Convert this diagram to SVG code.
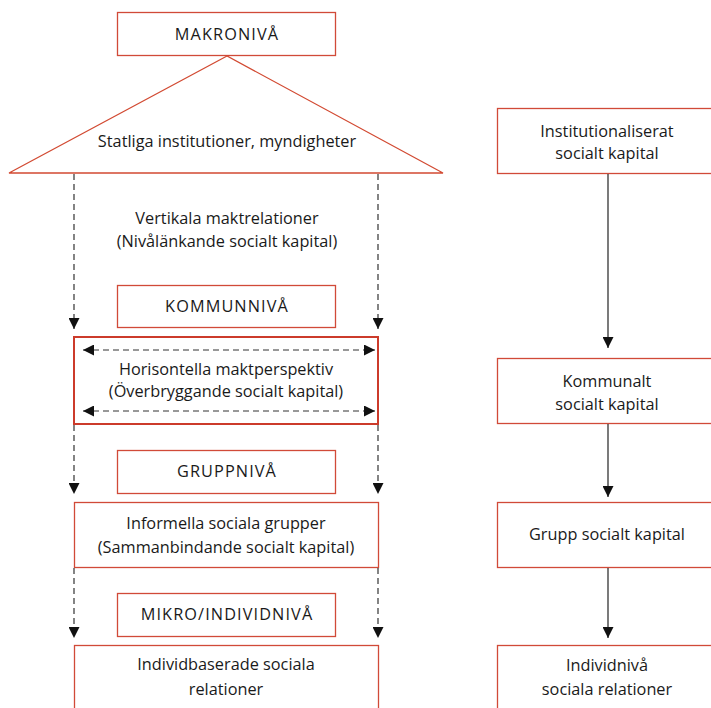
<svg xmlns="http://www.w3.org/2000/svg" width="711" height="708" viewBox="0 0 711 708">
  <style>
    .lbl { font-family: "Open Sans", "Noto Sans", sans-serif; font-size: 16.3px; fill: #1a1a1a; text-anchor: middle; }
    .caps { letter-spacing: 1.1px; }
    .box { fill: #ffffff; stroke: #d14a38; stroke-width: 1.3; }
    .boxb { fill: #ffffff; stroke: #cc3b2b; stroke-width: 2; }
    .dash { fill: none; stroke: #333333; stroke-width: 1.2; stroke-dasharray: 6 4; }
    .solid { fill: none; stroke: #222222; stroke-width: 1.2; }
  </style>
  <defs>
    <marker id="tri" viewBox="0 0 10 10" refX="10" refY="5" markerWidth="11" markerHeight="11" markerUnits="userSpaceOnUse" orient="auto">
      <path d="M0,0 L10,5 L0,10 Z" fill="#111111"/>
    </marker>
    <marker id="triS" viewBox="0 0 10 10" refX="0" refY="5" markerWidth="11" markerHeight="11" markerUnits="userSpaceOnUse" orient="auto">
      <path d="M10,0 L0,5 L10,10 Z" fill="#111111"/>
    </marker>
  </defs>
  <rect width="711" height="708" fill="#ffffff"/>

  <!-- left column -->
  <g id="makroniva">
    <rect class="box" x="117.5" y="12.5" width="218" height="43"/>
    <text class="lbl caps" x="227" y="40">MAKRONIVÅ</text>
  </g>
  <g id="statliga">
    <polygon points="227,56 9,173 443,173" fill="none" stroke="#d24a32" stroke-width="1.3"/>
    <text class="lbl" x="227" y="147">Statliga institutioner, myndigheter</text>
  </g>
  <g id="vertikala">
    <text class="lbl" x="227" y="224">Vertikala maktrelationer</text>
    <text class="lbl" x="227" y="247">(Nivålänkande socialt kapital)</text>
  </g>
  <g id="kommunniva">
    <rect class="box" x="117.5" y="285.5" width="218" height="42"/>
    <text class="lbl caps" x="227" y="312">KOMMUNNIVÅ</text>
  </g>
  <g id="horisontella">
    <rect class="boxb" x="74" y="337" width="304" height="87"/>
    <text class="lbl" x="226" y="375">Horisontella maktperspektiv</text>
    <text class="lbl" x="226" y="397">(Överbryggande socialt kapital)</text>
  </g>
  <g id="gruppniva">
    <rect class="box" x="117.5" y="450.5" width="218" height="43"/>
    <text class="lbl caps" x="227" y="477">GRUPPNIVÅ</text>
  </g>
  <g id="informella">
    <rect class="box" x="74.5" y="502.5" width="304" height="65"/>
    <text class="lbl" x="226" y="529">Informella sociala grupper</text>
    <text class="lbl" x="226" y="553">(Sammanbindande socialt kapital)</text>
  </g>
  <g id="mikroniva">
    <rect class="box" x="117.5" y="593.5" width="218" height="43"/>
    <text class="lbl caps" x="227" y="620">MIKRO/INDIVIDNIVÅ</text>
  </g>
  <g id="individbaserade">
    <rect class="box" x="74.5" y="645.5" width="304" height="80"/>
    <text class="lbl" x="226" y="670">Individbaserade sociala</text>
    <text class="lbl" x="226" y="695">relationer</text>
  </g>

  <!-- right column -->
  <g id="institutionaliserat">
    <rect class="box" x="497.5" y="108.5" width="230" height="65"/>
    <text class="lbl" x="607" y="137">Institutionaliserat</text>
    <text class="lbl" x="607" y="159">socialt kapital</text>
  </g>
  <g id="kommunalt">
    <rect class="box" x="497.5" y="358.5" width="230" height="65"/>
    <text class="lbl" x="607" y="387">Kommunalt</text>
    <text class="lbl" x="607" y="410">socialt kapital</text>
  </g>
  <g id="grupp">
    <rect class="box" x="497.5" y="502.5" width="230" height="65"/>
    <text class="lbl" x="607" y="540">Grupp socialt kapital</text>
  </g>
  <g id="individniva">
    <rect class="box" x="497.5" y="645.5" width="230" height="80"/>
    <text class="lbl" x="607" y="671">Individnivå</text>
    <text class="lbl" x="607" y="695">sociala relationer</text>
  </g>

  <!-- connectors -->
  <g id="connectors">
    <line class="dash" x1="74" y1="174" x2="74" y2="329" marker-end="url(#tri)"/>
    <line class="dash" x1="378" y1="174" x2="378" y2="329" marker-end="url(#tri)"/>
    <line class="dash" x1="83" y1="350" x2="375" y2="350" marker-start="url(#triS)" marker-end="url(#tri)"/>
    <line class="dash" x1="83" y1="411" x2="375" y2="411" marker-start="url(#triS)" marker-end="url(#tri)"/>
    <line class="dash" x1="74" y1="425" x2="74" y2="494" marker-end="url(#tri)"/>
    <line class="dash" x1="378" y1="425" x2="378" y2="494" marker-end="url(#tri)"/>
    <line class="dash" x1="74" y1="568" x2="74" y2="638" marker-end="url(#tri)"/>
    <line class="dash" x1="378" y1="568" x2="378" y2="638" marker-end="url(#tri)"/>
    <line class="solid" x1="608" y1="174" x2="608" y2="348" marker-end="url(#tri)"/>
    <line class="solid" x1="608" y1="424" x2="608" y2="497" marker-end="url(#tri)"/>
    <line class="solid" x1="608" y1="568" x2="608" y2="638" marker-end="url(#tri)"/>
  </g>
</svg>
